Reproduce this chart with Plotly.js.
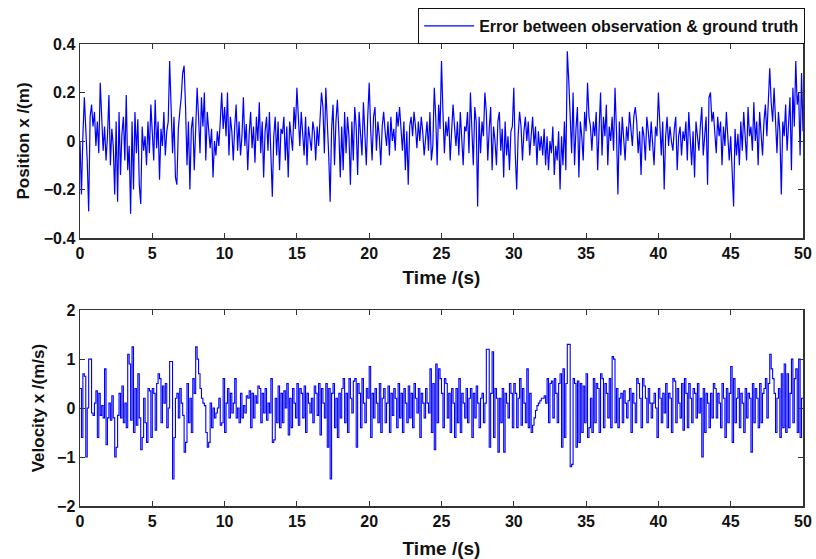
<!DOCTYPE html>
<html>
<head>
<meta charset="utf-8">
<script src="https://cdn.plot.ly/plotly-3.0.1.min.js"></script>
<style>html,body{margin:0;padding:0;background:#fff;}#chart{width:816px;height:559px;}</style>
</head>
<body>
<div id="chart"></div>
<script>
// Sample interval (s) and series values
const sampleStep = 0.1;

const positionError = [
 0.00,-0.22,0.02,0.18,0.05,-0.08,-0.29,0.10,0.15,0.06,
 0.12,-0.02,0.08,-0.05,0.24,0.10,-0.04,0.06,-0.08,0.02,
 0.19,-0.10,0.05,-0.02,-0.22,0.08,-0.25,0.12,-0.14,0.03,
 0.10,-0.08,0.19,-0.12,-0.02,-0.30,0.08,-0.20,0.12,-0.05,
 0.09,-0.18,-0.26,0.06,-0.04,0.02,-0.10,0.08,-0.05,0.15,
 0.02,-0.08,0.17,-0.03,0.08,-0.16,0.05,-0.02,0.12,-0.06,
 0.04,0.08,0.33,0.15,-0.05,0.10,-0.15,-0.18,0.05,0.12,
 0.18,0.28,0.31,0.14,-0.10,0.08,-0.20,0.05,0.10,-0.12,
 0.04,0.22,0.10,-0.05,0.18,0.06,0.20,-0.08,0.12,0.02,
 -0.03,0.05,-0.15,0.00,-0.06,0.04,-0.02,0.08,0.20,0.05,
 0.14,0.02,0.20,-0.06,0.10,0.04,-0.08,0.06,0.15,-0.04,
 0.08,-0.06,0.02,0.18,-0.02,0.07,-0.12,0.03,0.12,-0.03,
 0.06,-0.09,0.10,0.00,0.16,-0.05,0.08,-0.15,0.04,0.10,
 -0.04,0.12,-0.10,-0.23,0.02,0.10,-0.06,0.08,-0.12,0.05,
 0.03,0.10,-0.08,0.06,-0.15,0.08,0.02,-0.04,0.14,0.05,
 0.22,0.08,-0.02,0.12,0.04,-0.06,0.10,-0.10,0.06,0.02,
 -0.04,0.08,0.04,-0.08,0.06,-0.02,0.10,0.20,0.14,-0.05,
 0.22,0.10,-0.06,-0.25,0.05,0.15,-0.10,0.08,0.17,0.04,
 -0.15,0.06,-0.12,0.12,-0.05,0.10,0.02,-0.18,0.08,-0.08,
 0.14,0.06,-0.14,0.12,0.04,-0.06,0.16,0.02,-0.10,0.10,
 0.24,0.05,-0.08,0.10,0.14,-0.04,0.08,0.02,-0.10,0.06,
 0.12,0.04,-0.02,0.08,-0.06,0.10,0.00,0.05,-0.04,0.12,
 0.06,0.14,0.02,-0.04,0.08,-0.12,0.04,-0.18,0.06,0.10,
 0.02,0.12,0.06,-0.03,0.08,0.00,0.10,0.04,-0.06,0.03,
 0.08,-0.04,0.12,-0.08,-0.02,0.22,0.10,-0.10,0.15,0.05,
 0.33,0.12,-0.05,0.08,0.02,0.10,-0.08,0.04,0.15,0.06,
 -0.02,0.08,-0.06,0.12,0.02,-0.10,0.06,0.04,0.12,-0.05,
 0.20,0.06,-0.10,0.14,0.08,-0.27,0.10,-0.05,0.08,0.02,
 0.20,0.12,-0.08,0.05,0.14,-0.12,0.06,0.00,-0.10,0.08,
 0.12,-0.04,0.05,-0.15,0.08,-0.06,0.02,-0.12,0.04,0.06,
 0.22,-0.05,-0.20,0.02,0.12,0.06,-0.08,0.04,0.10,0.00,
 0.08,-0.06,0.03,0.10,-0.02,0.06,-0.10,0.04,-0.04,0.02,
 -0.06,0.05,-0.10,0.02,-0.12,0.00,-0.05,0.06,-0.14,-0.02,
 -0.08,0.04,-0.20,0.02,-0.10,0.08,-0.12,0.37,0.25,0.10,
 -0.05,0.20,-0.10,0.05,0.14,-0.15,0.08,0.02,-0.08,0.12,
 0.04,0.24,0.10,0.06,-0.04,0.08,0.02,0.12,-0.12,0.05,
 0.20,-0.06,0.10,0.02,0.15,-0.10,0.06,0.00,0.10,-0.04,
 0.22,0.04,-0.22,0.08,-0.06,0.10,0.02,-0.08,0.06,0.00,
 0.12,0.06,-0.02,0.10,0.14,0.08,-0.05,0.04,-0.14,0.06,
 0.02,-0.08,0.10,0.04,-0.04,0.08,0.00,-0.10,0.06,0.02,
 0.20,0.04,-0.06,0.08,-0.20,0.02,0.10,-0.02,0.06,0.00,
 -0.04,0.05,0.10,-0.12,0.02,0.06,-0.06,0.04,0.00,0.08,
 -0.08,0.12,0.02,-0.10,0.04,-0.15,0.08,0.00,-0.04,0.06,
 0.14,-0.06,0.02,0.10,-0.18,0.18,0.20,0.08,0.12,0.04,
 -0.05,0.10,0.02,0.08,-0.10,0.06,-0.02,0.12,0.04,-0.08,
 0.02,-0.12,-0.27,0.05,-0.06,0.03,-0.10,0.08,-0.04,0.12,
 0.04,-0.08,0.14,0.02,0.06,-0.04,0.16,0.00,0.08,-0.10,
 0.12,0.04,-0.06,0.08,0.15,0.02,0.20,0.30,0.16,0.08,
 0.22,0.10,-0.05,0.12,0.04,-0.22,0.08,0.02,0.15,-0.04,
 0.10,0.18,-0.12,0.22,0.06,0.33,0.15,0.20,-0.06,0.28,
 0.04
];

const velocityError = [
 0.40,-0.60,0.70,0.65,-1.00,0.00,1.00,1.00,-0.10,-0.15,
 0.10,0.35,-0.60,0.30,-0.15,0.05,-0.20,0.80,-0.75,-0.20,
 0.10,-0.25,0.25,-0.20,-1.00,-0.80,-0.15,0.30,-0.20,0.45,
 -0.30,0.10,-0.40,1.10,0.90,-0.25,1.25,-0.50,0.40,-0.35,
 0.70,-0.20,-0.85,-0.60,0.20,-0.30,-0.70,0.40,0.35,-0.60,
 0.40,0.30,-0.45,0.50,0.70,0.60,-0.30,0.45,0.10,0.50,
 -0.40,0.00,0.95,0.95,-1.45,-0.60,0.20,0.30,-0.20,0.40,
 0.10,-0.15,-0.90,-0.70,0.50,-0.30,0.20,-0.50,0.60,0.30,
 1.25,1.00,0.70,0.40,0.20,0.10,0.05,-0.50,-0.80,-0.70,
 0.10,-0.40,0.00,-0.20,-0.10,0.00,0.20,-0.35,-0.30,0.60,
 -0.50,0.10,0.40,-0.20,0.30,-0.10,0.10,0.60,-0.20,0.00,
 -0.30,0.30,-0.20,0.05,-0.10,0.25,0.20,0.35,-0.40,0.30,
 -0.20,0.25,0.10,0.45,0.40,-0.30,0.30,-0.10,0.40,-0.25,
 0.10,-0.10,0.60,-0.70,-0.65,0.20,-0.30,0.45,-0.40,0.30,
 -0.30,0.35,0.00,0.50,-0.55,0.20,-0.40,0.40,0.10,-0.20,
 0.50,-0.35,0.40,0.30,-0.20,0.45,-0.50,0.30,0.10,-0.10,
 0.20,-0.30,0.45,0.30,-0.15,0.50,-0.55,0.40,0.10,-0.20,
 0.50,-0.80,0.40,-1.45,0.30,0.50,-0.40,0.20,-0.60,0.30,
 -0.20,0.40,0.60,-0.30,0.30,-0.50,0.60,0.20,-0.10,0.55,
 0.60,-0.80,0.50,0.30,-0.40,0.60,0.10,-0.30,0.40,0.20,
 0.85,-0.60,0.30,-0.20,0.40,0.10,-0.30,0.50,-0.50,0.20,
 0.40,-0.30,0.10,0.45,-0.50,0.30,-0.15,0.40,0.20,-0.40,
 0.50,-0.20,0.30,-0.50,0.40,0.10,-0.30,0.45,-0.20,0.30,
 -0.40,0.50,0.20,-0.10,0.40,-0.60,0.30,0.10,-0.20,0.40,
 0.10,-0.10,0.80,-0.50,0.50,-0.85,0.90,-0.30,0.80,0.60,
 0.30,-0.40,0.60,0.50,-0.20,0.30,-0.50,0.40,0.10,-0.60,
 0.40,-0.30,0.60,-0.50,0.30,0.10,-0.20,0.40,-0.30,0.20,
 0.40,-0.60,0.30,-0.20,0.45,0.10,-0.40,0.20,0.30,-0.30,
 0.10,1.20,1.20,-0.80,0.30,1.15,-0.60,0.40,0.20,-0.90,
 0.20,-0.30,0.40,-0.90,0.30,0.10,-0.20,0.50,0.30,-0.40,
 0.50,0.30,-0.40,0.20,0.60,-0.35,0.40,0.10,-0.30,0.80,
 -0.40,0.30,-0.50,-0.35,-0.20,-0.05,0.05,0.10,0.15,0.20,
 0.20,0.25,0.10,0.60,-0.30,0.50,0.55,-0.20,0.60,0.30,
 -0.30,0.50,0.70,-0.80,0.80,-0.60,0.50,1.30,1.30,-1.20,
 -1.15,0.60,0.50,-0.80,0.55,-0.70,0.50,-0.50,0.45,-0.30,
 0.70,-0.60,-0.40,0.20,-0.50,0.60,-0.30,0.50,0.40,-0.50,
 0.70,0.60,-0.40,0.50,0.30,-0.20,0.60,-0.40,1.05,1.00,
 -0.30,0.40,-0.40,0.20,0.30,-0.30,0.35,0.10,-0.20,0.15,
 0.40,-0.50,0.30,0.10,-0.30,0.60,0.50,0.20,-0.40,0.60,
 0.45,0.20,-0.30,0.40,0.10,-0.20,0.10,0.30,0.00,-0.60,
 0.40,0.20,-0.30,0.30,-0.10,0.50,-0.40,0.30,0.20,-0.50,
 0.60,0.55,-0.30,0.40,0.10,-0.20,0.50,-0.45,0.60,0.30,
 -0.40,0.50,0.20,-0.30,0.40,0.30,-0.20,0.50,-0.10,0.20,
 -1.00,0.40,-0.50,0.30,0.10,-0.40,0.30,-0.20,0.50,0.40,
 -0.20,0.30,0.10,-0.40,0.50,0.20,-0.60,0.40,-0.30,0.30,
 0.85,-0.70,0.60,-0.30,0.20,0.40,-0.40,0.30,0.10,-0.50,
 0.40,-0.20,0.30,0.20,-0.90,0.50,-0.30,0.40,0.20,-0.40,
 0.50,-0.30,0.30,0.40,0.60,-0.20,0.50,1.10,0.80,0.60,
 0.30,-0.50,0.20,0.40,-0.60,0.70,-0.40,0.90,-0.50,0.70,
 -0.40,0.30,1.00,-0.30,0.60,0.80,-0.50,1.00,-0.60,0.20,
 0.20
];

const xTicks = [0,5,10,15,20,25,30,35,40,45,50];
const posTicks = [-0.4,-0.2,0,0.2,0.4];
const velTicks = [-2,-1,0,1,2];

const legendLabel = "Error between observation &amp; ground truth";
const xTitle = "Time /(s)";
const posTitle = "Position x /(m)";
const velTitle = "Velocity x /(m/s)";

const timePos = positionError.map((_, i) => +(i * sampleStep).toFixed(2));
const timeVel = velocityError.map((_, i) => +(i * sampleStep).toFixed(2));

const FONT = "Liberation Sans, Arial, sans-serif";
const tickFont = {family: FONT, size: 16, color: "#111", weight: "bold"};
const yTitleFont = {family: FONT, size: 17, color: "#111", weight: "bold"};
const xTitleFont = {family: FONT, size: 19, color: "#111", weight: "bold"};

const traces = [
  {x: timePos, y: positionError, type: "scatter", mode: "lines", name: legendLabel,
   line: {color: "#0000ff", width: 1.2}, xaxis: "x", yaxis: "y", showlegend: true},
  {x: timeVel, y: velocityError, type: "scatter", mode: "lines", name: "velocity",
   line: {color: "#0000ff", width: 1.1, shape: "hv"}, xaxis: "x2", yaxis: "y2", showlegend: false}
];

const axBase = {
  showgrid: false, zeroline: false, showline: true, mirror: "ticks",
  linecolor: "#333", linewidth: 1.5, ticks: "inside", ticklen: 5, tickwidth: 1,
  tickcolor: "#333", tickfont: tickFont, automargin: false
};

const layout = {
  width: 816, height: 559,
  margin: {l: 80, r: 13, t: 44, b: 53, autoexpand: false},
  paper_bgcolor: "#fff", plot_bgcolor: "#fff",
  showlegend: true,
  legend: {
    x: 1.003, xanchor: "right", y: 1.0779, yanchor: "top",
    bordercolor: "#111", borderwidth: 1, bgcolor: "#fff",
    font: {family: "Liberation Sans Narrow, Arial Narrow, " + FONT, size: 16, color: "#111", weight: "bold"},
    tracegroupgap: 0, itemwidth: 50
  },
  xaxis: Object.assign({}, axBase, {
    domain: [0, 1], anchor: "y", range: [0, 50], tickvals: xTicks,
    title: {text: xTitle, font: xTitleFont, standoff: 10}
  }),
  yaxis: Object.assign({}, axBase, {
    domain: [0.58, 1], anchor: "x", range: [-0.4, 0.4], tickvals: posTicks,
    title: {text: posTitle, font: yTitleFont, standoff: 10}
  }),
  xaxis2: Object.assign({}, axBase, {
    domain: [0, 1], anchor: "y2", range: [0, 50], tickvals: xTicks,
    title: {text: xTitle, font: xTitleFont, standoff: 13}
  }),
  yaxis2: Object.assign({}, axBase, {
    domain: [0, 0.424], anchor: "x2", range: [-2, 2], tickvals: velTicks,
    title: {text: velTitle, font: yTitleFont, standoff: 8}
  })
};

Plotly.newPlot("chart", traces, layout, {displayModeBar: false, staticPlot: true});
</script>
</body>
</html>
